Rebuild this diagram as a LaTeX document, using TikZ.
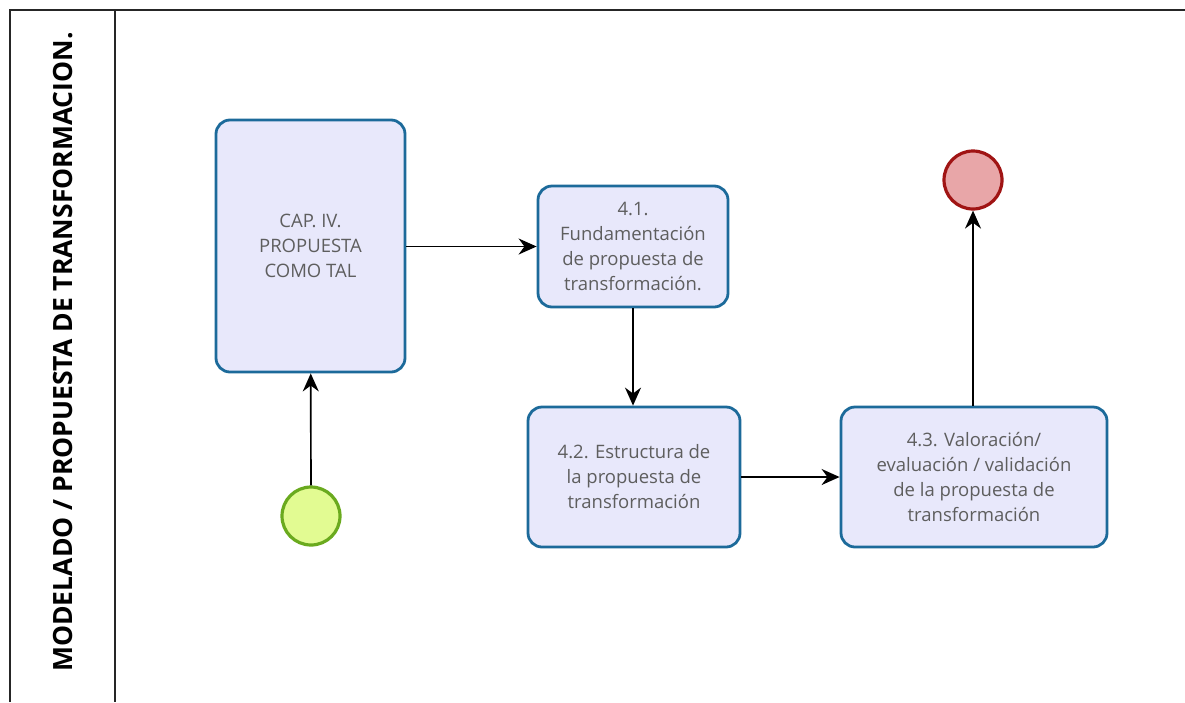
\documentclass[tikz,border=0pt]{standalone}
\usepackage{fontspec}
\setmainfont{Open Sans}
\usetikzlibrary{arrows.meta}
\definecolor{boxline}{HTML}{1C6A9A}
\definecolor{boxfill}{HTML}{E8E8FB}
\definecolor{boxtext}{HTML}{5E5E5E}
\definecolor{startline}{HTML}{6AAA1E}
\definecolor{startfill}{HTML}{E2FB92}
\definecolor{endline}{HTML}{A01414}
\definecolor{endfill}{HTML}{E8A6A8}
\tikzset{
  task/.style={draw=boxline, fill=boxfill, line width=2.8pt, rounded corners=14pt,
    text=boxtext, align=center, inner sep=0pt, font=\fontsize{18.5}{25}\selectfont},
  startev/.style={circle, draw=startline, fill=startfill, line width=3.2pt, minimum size=58pt, inner sep=0pt},
  endev/.style={circle, draw=endline, fill=endfill, line width=3.2pt, minimum size=58pt, inner sep=0pt},
  flow/.style={line width=1.7pt, -{Stealth[length=18pt, width=16pt]}}
}
\begin{document}
\begin{tikzpicture}[x=1pt, y=-1pt]
\useasboundingbox (0,0) rectangle (1185,702);
\draw[line width=2pt, black!85] (10,702) -- (10,10) -- (1185,10);
\draw[line width=2pt, black!85] (115,10) -- (115,702);
\node[rotate=90, font=\bfseries\fontsize{26.5}{30}\selectfont] (lane) at (63,352) {MODELADO / PROPUESTA DE TRANSFORMACION.};
\node[task, minimum width=189pt, minimum height=252pt] (cap) at (310.5,246) {CAP. IV.\\PROPUESTA\\COMO TAL};
\node[task, minimum width=190pt, minimum height=121pt] (fund) at (633,246.5) {4.1.\\Fundamentación\\de propuesta de\\transformación.};
\node[task, minimum width=212pt, minimum height=140pt] (estr) at (634,477) {4.2. Estructura de\\la propuesta de\\transformación};
\node[task, minimum width=266pt, minimum height=140pt] (valo) at (974,477) {4.3. Valoración/\\evaluación / validación\\de la propuesta de\\transformación};
\node[startev] (ini) at (311,516) {};
\node[endev] (fin) at (973,180) {};
\draw[flow] (ini) -- (cap);
\draw[flow] (cap.east |- fund.west) -- (fund.west);
\draw[flow] (fund) -- (fund |- estr.north);
\draw[flow] (estr) -- (valo);
\draw[flow] (fin |- valo.north) -- (fin);
\end{tikzpicture}
\end{document}
